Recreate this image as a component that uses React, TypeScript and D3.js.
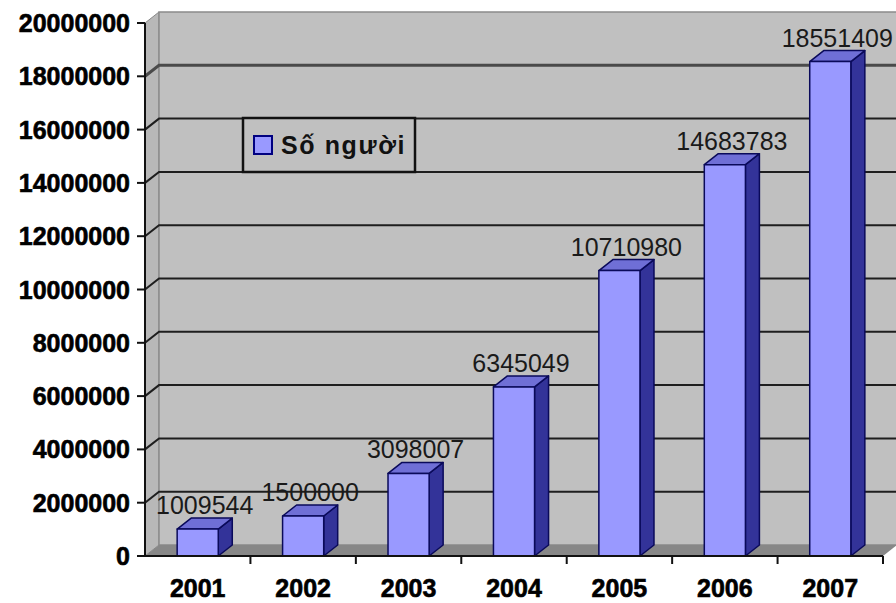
import React from "react";
import * as d3 from "d3";

// Number of people per year
const years: string[] = ["2001", "2002", "2003", "2004", "2005", "2006", "2007"];
const people: number[] = [1009544, 1500000, 3098007, 6345049, 10710980, 14683783, 18551409];
const yTicks: number[] = [0, 2000000, 4000000, 6000000, 8000000, 10000000, 12000000, 14000000, 16000000, 18000000, 20000000];
const legendLabel = "Số người";

const W = 896;
const H = 603;
// front plane of the plot
const left = 145;
const right = 883;
const top = 23;
const bottom = 556;
// depth offset of the 3D box
const dx = 14;
const dy = -11;

const FONT = "'Liberation Sans', Arial, sans-serif";

export default function App() {
  const y = d3.scaleLinear().domain([0, 20000000]).range([bottom, top]);
  const x = d3.scaleBand<string>().domain(years).range([left, right]).padding(0);
  const barW = x.bandwidth() * 0.39;
  const y0 = y(0);
  const yMax = y(20000000);

  const pts = (p: [number, number][]) => p.map((q) => q.join(",")).join(" ");

  return (
    <svg
      width={W}
      height={H}
      style={{ position: "absolute", left: 0, top: 0, background: "#fff" }}
      xmlns="http://www.w3.org/2000/svg"
    >
      {/* side wall */}
      <polygon
        points={pts([
          [left, y0],
          [left + dx, y0 + dy],
          [left + dx, yMax + dy],
          [left, yMax],
        ])}
        fill="#b8b8b8"
        stroke="#888"
        strokeWidth={1}
      />
      {/* back wall */}
      <rect
        x={left + dx}
        y={yMax + dy}
        width={right - left}
        height={y0 - yMax}
        fill="#c0c0c0"
        stroke="#8a8a8a"
        strokeWidth={1.5}
      />
      {/* floor */}
      <polygon
        points={pts([
          [left, y0],
          [right, y0],
          [right + dx, y0 + dy],
          [left + dx, y0 + dy],
        ])}
        fill="#878787"
      />
      {/* gridlines */}
      {yTicks
        .filter((t) => t > 0 && t < 20000000)
        .map((t) => (
          <polyline
            key={t}
            points={pts([
              [left, y(t)],
              [left + dx, y(t) + dy],
              [right + dx, y(t) + dy],
            ])}
            fill="none"
            stroke={t === 18000000 ? "#4a4a4a" : "#1e1e1e"}
            strokeWidth={t === 18000000 ? 3 : 2}
          />
        ))}

      {/* legend */}
      <g>
        <rect x={243} y={118} width={172} height={54} fill="#c0c0c0" stroke="#111" strokeWidth={2.5} />
        <rect x={254} y={136} width={18} height={18} fill="#9999ff" stroke="#000080" strokeWidth={2} />
        <text
          x={281}
          y={154}
          fontFamily={FONT}
          fontWeight="bold"
          fontSize={25}
          letterSpacing={1.6}
          fill="#111"
        >
          {legendLabel}
        </text>
      </g>

      {/* bars */}
      {years.map((yr, i) => {
        const v = people[i];
        const cx = (x(yr) as number) + x.bandwidth() / 2;
        const x0 = cx - barW / 2;
        const x1 = cx + barW / 2;
        const yt = y(v);
        return (
          <g key={yr} stroke="#0a0a5a" strokeWidth={1.5} strokeLinejoin="round">
            <polygon
              points={pts([
                [x1, yt],
                [x1 + dx, yt + dy],
                [x1 + dx, y0 + dy],
                [x1, y0],
              ])}
              fill="#333399"
            />
            <polygon
              points={pts([
                [x0, yt],
                [x0 + dx, yt + dy],
                [x1 + dx, yt + dy],
                [x1, yt],
              ])}
              fill="#6f6fd6"
            />
            <rect x={x0} y={yt} width={barW} height={y0 - yt} fill="#9999ff" />
          </g>
        );
      })}

      {/* value labels */}
      {years.map((yr, i) => {
        const v = people[i];
        const cx = (x(yr) as number) + x.bandwidth() / 2 + dx / 2;
        return (
          <text
            key={yr}
            x={cx}
            y={y(v) + dy - 4}
            textAnchor="middle"
            fontFamily={FONT}
            fontSize={25}
            fill="#1a1a1a"
          >
            {String(v)}
          </text>
        );
      })}

      {/* value axis */}
      <line x1={left} x2={left} y1={yMax} y2={y0} stroke="#111" strokeWidth={2} />
      {yTicks.map((t) => (
        <g key={t}>
          <line x1={left - 8} x2={left} y1={y(t)} y2={y(t)} stroke="#111" strokeWidth={2} />
          <text
            x={130}
            y={y(t)}
            dy="0.36em"
            textAnchor="end"
            fontFamily={FONT}
            fontWeight="bold"
            fontSize={25}
            fill="#000"
            stroke="#000"
            strokeWidth={0.6}
          >
            {String(t)}
          </text>
        </g>
      ))}

      {/* category axis */}
      <line x1={left} x2={right} y1={y0} y2={y0} stroke="#111" strokeWidth={2} />
      {years.map((yr) => {
        const xe = (x(yr) as number) + x.bandwidth();
        return <line key={yr} x1={xe} x2={xe} y1={y0} y2={y0 + 8} stroke="#111" strokeWidth={2} />;
      })}
      {years.map((yr) => (
        <text
          key={yr}
          x={(x(yr) as number) + x.bandwidth() / 2}
          y={597}
          textAnchor="middle"
          fontFamily={FONT}
          fontWeight="bold"
          fontSize={25}
          fill="#000"
          stroke="#000"
          strokeWidth={0.6}
        >
          {yr}
        </text>
      ))}
    </svg>
  );
}
